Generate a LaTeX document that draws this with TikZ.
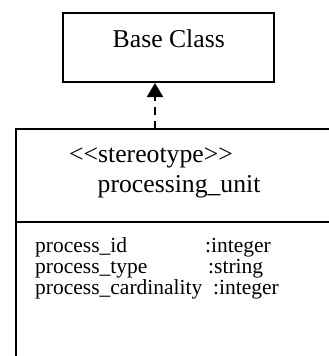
\documentclass[tikz,border=0pt]{standalone}
\usepackage{fontspec}
\setmainfont{Liberation Serif}
\usetikzlibrary{arrows.meta}
\begin{document}
\begin{tikzpicture}[x=1pt,y=-1pt,
  boxline/.style={line width=2pt,draw=black},
  lbl/.style={inner sep=0pt,anchor=base west},
  bigtxt/.style={lbl,font=\fontsize{25.7}{27}\selectfont},
  attxt/.style={lbl,font=\fontsize{21.5}{23}\selectfont},
  inherit/.style={line width=2pt,dash pattern=on 8pt off 6pt,-{Triangle[length=14pt,width=16pt]}}]
\useasboundingbox (0,0) rectangle (329,356);
\clip (0,0) rectangle (329,356);
% base class box
\node[boxline,minimum width=211pt,minimum height=69pt,inner sep=0pt,anchor=north west] (base) at (62,12) {};
\node[bigtxt] (basetxt) at (112.5,47) {Base Class};
% processing unit class (cut at the picture edges)
\coordinate (cTL) at (16,129);
\coordinate (cTR) at (340,129);
\coordinate (cBL) at (16,370);
\coordinate (dL) at (16,222);
\coordinate (dR) at (340,222);
\draw[boxline] (cTR) -- (cTL) -- (cBL);
\draw[boxline] (dL) -- (dR);
\node[bigtxt] (stereo) at (69,162) {{<}{<}stereotype{>}{>}};
\node[bigtxt] (cname) at (97.5,192) {processing\_unit};
\node[attxt] (a1) at (35,252) {process\_id};
\node[attxt] (a2) at (35,273) {process\_type};
\node[attxt] (a3) at (35,294) {process\_cardinality};
\node[attxt] (t1) at (205,252) {:integer};
\node[attxt] (t2) at (208,273) {:string};
\node[attxt] (t3) at (213,294) {:integer};
% inheritance
\coordinate (arrS) at (155,129);
\coordinate (arrE) at (155,83);
\draw[inherit] (arrS) -- (arrE);
\end{tikzpicture}
\end{document}
